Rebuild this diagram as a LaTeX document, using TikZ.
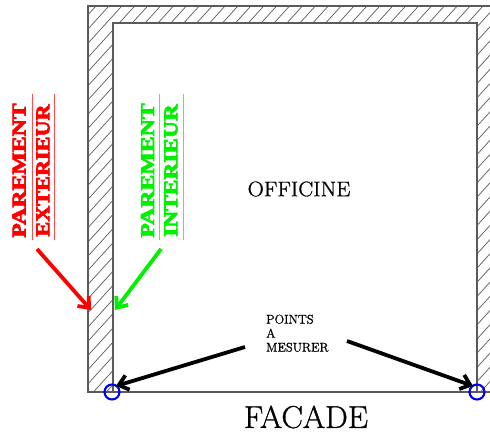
\documentclass[tikz,border=0pt]{standalone}
\usepackage{fontspec}
\usetikzlibrary{arrows.meta}
\newfontfamily\heavyfont{Liberation Serif Bold}[FakeBold=3.5]
\newfontfamily\roughfont{Latin Modern Roman}[FakeBold=0.9]
\definecolor{wallgrey}{RGB}{90,90,90}
\definecolor{labred}{RGB}{255,0,0}
\definecolor{labgreen}{RGB}{0,240,0}
\definecolor{ptblue}{RGB}{0,0,235}
\tikzset{
  wall/.style={draw=wallgrey,line width=1.05pt},
  hatchline/.style={draw=wallgrey,line width=0.7pt},
  vlabel/.style={rotate=90,font=\heavyfont\fontsize{19.5}{20}\selectfont,inner sep=0pt,anchor=center},
  rule/.style={line width=1pt},
  pointer/.style={line width=3.8pt,-{Straight Barb[length=9pt,width=15pt,line width=3.8pt]}},
  ptcircle/.style={circle,draw=ptblue,line width=2.1pt,minimum size=15pt,inner sep=0pt},
}
\begin{document}
\begin{tikzpicture}[x=1pt,y=-1pt]
\useasboundingbox (0,0) rectangle (490,434);
\begin{scope}
  \clip (88,6) -- (490,6) -- (490,392) -- (477,392) -- (477,23) -- (113,23) -- (113,392) -- (88,392) -- cycle;
  \foreach \k in {-40,...,75} {
    \draw[hatchline] (96+12.9*\k-454.5,506) -- (96+12.9*\k+5.5,0);
  }
\end{scope}
\draw[wall] (490,6) -- (88,6) -- (88,392) -- (490,392);
\draw[wall] (113,392) -- (113,23) -- (477,23) -- (477,392);

\node[font=\roughfont\fontsize{21}{21}\selectfont,inner sep=0pt,xscale=1.07] (officine) at (299,189) {OFFICINE};
\node[font=\roughfont\fontsize{31.5}{31.5}\selectfont,inner sep=0pt,xscale=1.02] (facade) at (306,417) {FACADE};
\node[font=\roughfont\fontsize{12.6}{14}\selectfont,align=left,inner sep=0pt,anchor=north west] (points) at (266,314.5) {POINTS\\A\\MESURER};

\node[vlabel,text=labred,xscale=1.22] (pe) at (19,170.5) {PAREMENT};
\node[vlabel,text=labred,xscale=1.14] (ee) at (43,170.5) {EXTERIEUR};
\node[vlabel,text=labgreen,xscale=1.22] (pi) at (147.5,170.5) {PAREMENT};
\node[vlabel,text=labgreen,xscale=1.2] (ii) at (171,170.5) {INTERIEUR};

\coordinate (r1a) at (32,94); \coordinate (r1b) at (32,240);
\coordinate (r2a) at (54.5,94); \coordinate (r2b) at (54.5,240);
\coordinate (g1a) at (159,94); \coordinate (g1b) at (159,240);
\coordinate (g2a) at (183,94); \coordinate (g2b) at (183,240);
\draw[rule,labred!70!white] (r1a) -- (r1b);
\draw[rule,labred!70!white] (r2a) -- (r2b);
\draw[rule,labgreen!70!white] (g1a) -- (g1b);
\draw[rule,labgreen!70!white] (g2a) -- (g2b);

\node[ptcircle] (cl) at (112,392) {};
\node[ptcircle] (cr) at (477,392) {};

\coordinate (redstart) at (37,249); \coordinate (redend) at (91,310);
\coordinate (greenstart) at (161,249); \coordinate (greenend) at (115,310);
\coordinate (bl) at (245,347); \coordinate (bltip) at (116,386);
\coordinate (br) at (347,341); \coordinate (brtip) at (473,386);
\draw[pointer,labred] (redstart) -- (redend);
\draw[pointer,labgreen] (greenstart) -- (greenend);
\draw[pointer,black] (bl) -- (bltip);
\draw[pointer,black] (br) -- (brtip);
\end{tikzpicture}
\end{document}
